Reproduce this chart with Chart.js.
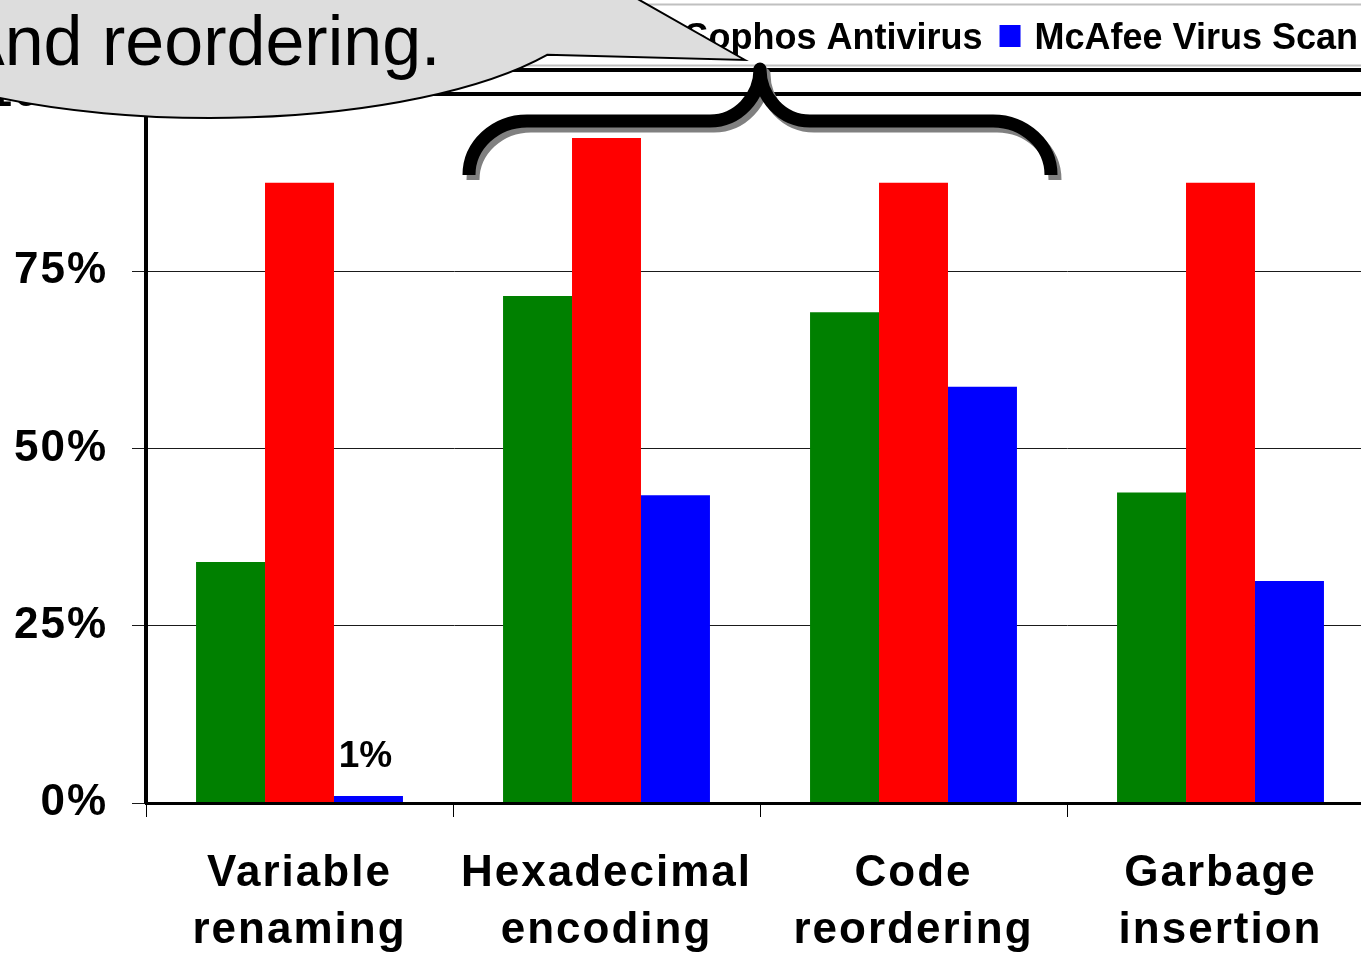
<!DOCTYPE html>
<html>
<head>
<meta charset="utf-8">
<title>Detection rate by obfuscation technique</title>
<script src="https://cdn.jsdelivr.net/npm/chart.js@4.4.1/dist/chart.umd.min.js"></script>
<style>
  html, body { margin: 0; padding: 0; background: #fff; overflow: hidden; }
  canvas { display: block; }
</style>
</head>
<body>
<canvas id="c" width="1420" height="961"></canvas>
<script>
// ---- data -------------------------------------------------------------
const categories = [
  ["Variable", "renaming"],
  ["Hexadecimal", "encoding"],
  ["Code", "reordering"],
  ["Garbage", "insertion"]
];
const seriesNames = ["Norton Antivirus", "Sophos Antivirus", "McAfee Virus Scan"];
const nortonRates = [34, 71.5, 69.2, 43.8];
const sophosRates = [87.5, 93.8, 87.5, 87.5];
const mcafeeRates = [1, 43.4, 58.7, 31.3];
const seriesColors = ["#008000", "#ff0000", "#0000ff"];
const yTickValues = [0, 25, 50, 75, 100];
const calloutText = "And reordering.";

// ---- styling helpers ---------------------------------------------------
const FONT = '"Liberation Sans", Arial, Helvetica, sans-serif';
const axisFont = { family: FONT, size: 44, weight: 'bold', lineHeight: 1.295 };

// Axis text is drawn slightly letter-spaced; bars and the value label are not.
const axisLetterSpacing = {
  id: 'axisLetterSpacing',
  beforeDraw(chart) { chart.ctx.letterSpacing = '2px'; },
  afterDatasetsDraw(chart) { chart.ctx.letterSpacing = '0px'; }
};

// Value label for bars too short to read on their own.
const smallValueLabels = {
  id: 'smallValueLabels',
  afterDatasetsDraw(chart) {
    const ctx = chart.ctx;
    ctx.save();
    ctx.letterSpacing = '0px';
    ctx.font = 'bold 37px ' + FONT;
    ctx.fillStyle = '#000';
    ctx.textAlign = 'center';
    ctx.textBaseline = 'alphabetic';
    chart.data.datasets.forEach((ds, di) => {
      const meta = chart.getDatasetMeta(di);
      ds.data.forEach((v, i) => {
        if (v < 5) {
          const bar = meta.data[i];
          ctx.fillText(Math.round(v) + '%', bar.x - 3, bar.y - 29);
        }
      });
    });
    ctx.restore();
  }
};

// Legend row (right-aligned), slide rule, brace and callout balloon.
const overlays = {
  id: 'overlays',
  afterDraw(chart) {
    const ctx = chart.ctx;
    ctx.save();
    ctx.letterSpacing = '0px';

    // legend
    ctx.font = 'bold 36px ' + FONT;
    const items = chart.data.datasets.map(d => ({ text: d.label, color: d.backgroundColor }));
    const pos = [];
    let right = 1358;
    for (let i = items.length - 1; i >= 0; i--) {
      const w = ctx.measureText(items[i].text).width;
      const tx = right - w;
      const bx = tx - 14 - 21;
      pos[i] = { tx, bx };
      right = bx - 17;
    }
    const frameLeft = pos[0].bx - 16;
    ctx.fillStyle = '#fff';
    ctx.fillRect(frameLeft, 4, chart.width - frameLeft + 10, 62);
    ctx.strokeStyle = '#c0c0c0';
    ctx.lineWidth = 2;
    ctx.strokeRect(frameLeft, 4.5, chart.width, 61);
    ctx.textAlign = 'left';
    ctx.textBaseline = 'alphabetic';
    items.forEach((it, i) => {
      ctx.fillStyle = it.color;
      ctx.fillRect(pos[i].bx, 25, 21, 22);
      ctx.fillStyle = '#000';
      ctx.fillText(it.text, pos[i].tx, 49);
    });

    // rule under the legend
    ctx.fillStyle = '#000';
    ctx.fillRect(0, 68, chart.width, 4);

    // brace spanning the middle two categories
    const xs = chart.scales.x;
    const half = (xs.getPixelForValue(1) - xs.getPixelForValue(0)) / 2;
    const L = xs.getPixelForValue(1) - half + 16;
    const R = xs.getPixelForValue(2) + half - 16;
    const C = (L + R) / 2;
    const yTip = 69, yMid = 121, yEnd = 175;
    const rEnd = 58, rMid = 50;
    const k = 0.55;
    const bracePath = (dx, dy) => {
      ctx.beginPath();
      ctx.moveTo(L + dx, yEnd + dy);
      ctx.bezierCurveTo(L + dx, yMid + (yEnd - yMid) * (1 - k) + dy,
                        L + rEnd * (1 - k) + dx, yMid + dy,
                        L + rEnd + dx, yMid + dy);
      ctx.lineTo(C - rMid + dx, yMid + dy);
      ctx.bezierCurveTo(C - rMid * (1 - k) + dx, yMid + dy,
                        C + dx, yTip + (yMid - yTip) * k + dy,
                        C + dx, yTip + dy);
      ctx.bezierCurveTo(C + dx, yTip + (yMid - yTip) * k + dy,
                        C + rMid * (1 - k) + dx, yMid + dy,
                        C + rMid + dx, yMid + dy);
      ctx.lineTo(R - rEnd + dx, yMid + dy);
      ctx.bezierCurveTo(R - rEnd * (1 - k) + dx, yMid + dy,
                        R + dx, yMid + (yEnd - yMid) * (1 - k) + dy,
                        R + dx, yEnd + dy);
    };
    ctx.lineWidth = 13;
    ctx.lineCap = 'butt';
    ctx.lineJoin = 'round';
    bracePath(4, 5);
    ctx.strokeStyle = '#808080';
    ctx.stroke();
    bracePath(0, 0);
    ctx.strokeStyle = '#000';
    ctx.stroke();

    // callout balloon
    const cx = 210, cy = -10, rx = 391, ry = 128;
    const tipX = 745, tipY = 60;
    const a0 = Math.atan2((-23 - cy) / ry, (600 - cx) / rx);
    const a1 = Math.atan2((55 - cy) / ry, (548 - cx) / rx);
    ctx.beginPath();
    ctx.moveTo(tipX, tipY);
    ctx.lineTo(cx + rx * Math.cos(a0), cy + ry * Math.sin(a0));
    ctx.ellipse(cx, cy, rx, ry, 0, a0, a1, true);
    ctx.closePath();
    ctx.fillStyle = '#dddddd';
    ctx.fill();
    ctx.lineWidth = 2;
    ctx.lineJoin = 'miter';
    ctx.strokeStyle = '#000';
    ctx.stroke();

    ctx.font = '70px ' + FONT;
    ctx.fillStyle = '#000';
    ctx.textAlign = 'left';
    ctx.textBaseline = 'alphabetic';
    ctx.fillText(calloutText, -42, 65);

    ctx.restore();
  }
};

// ---- chart -------------------------------------------------------------
new Chart(document.getElementById('c'), {
  type: 'bar',
  data: {
    labels: categories,
    datasets: [
      { label: seriesNames[0], data: nortonRates, backgroundColor: seriesColors[0] },
      { label: seriesNames[1], data: sophosRates, backgroundColor: seriesColors[1] },
      { label: seriesNames[2], data: mcafeeRates, backgroundColor: seriesColors[2] }
    ]
  },
  options: {
    responsive: false,
    animation: false,
    devicePixelRatio: 1,
    layout: { padding: { top: 94, right: 46, left: 0, bottom: 0 } },
    datasets: { bar: { categoryPercentage: 0.674, barPercentage: 1, borderWidth: 0 } },
    plugins: { legend: { display: false }, tooltip: { enabled: false } },
    scales: {
      x: {
        grid: { display: true, drawOnChartArea: false, drawTicks: true, tickLength: 14, color: '#000', lineWidth: 1, offset: true },
        border: { display: true, color: '#000', width: 3, z: 1 },
        ticks: { color: '#000', font: axisFont, padding: 28, maxRotation: 0, autoSkip: false },
        afterFit(s) { s.height = 158; }
      },
      y: {
        min: 0,
        max: 100,
        afterBuildTicks(s) { s.ticks = yTickValues.map(v => ({ value: v })); },
        grid: {
          color: c => (c.tick && c.tick.value === 100) ? '#000' : '#1a1a1a',
          lineWidth: c => (c.tick && c.tick.value === 100) ? 4 : 1,
          tickLength: 14,
          drawTicks: true
        },
        border: { display: true, color: '#000', width: 4, z: 1 },
        ticks: { color: '#000', font: axisFont, padding: 24, callback: v => v + '%' },
        afterFit(s) { s.width = 146; }
      }
    }
  },
  plugins: [axisLetterSpacing, smallValueLabels, overlays]
});
</script>
</body>
</html>
